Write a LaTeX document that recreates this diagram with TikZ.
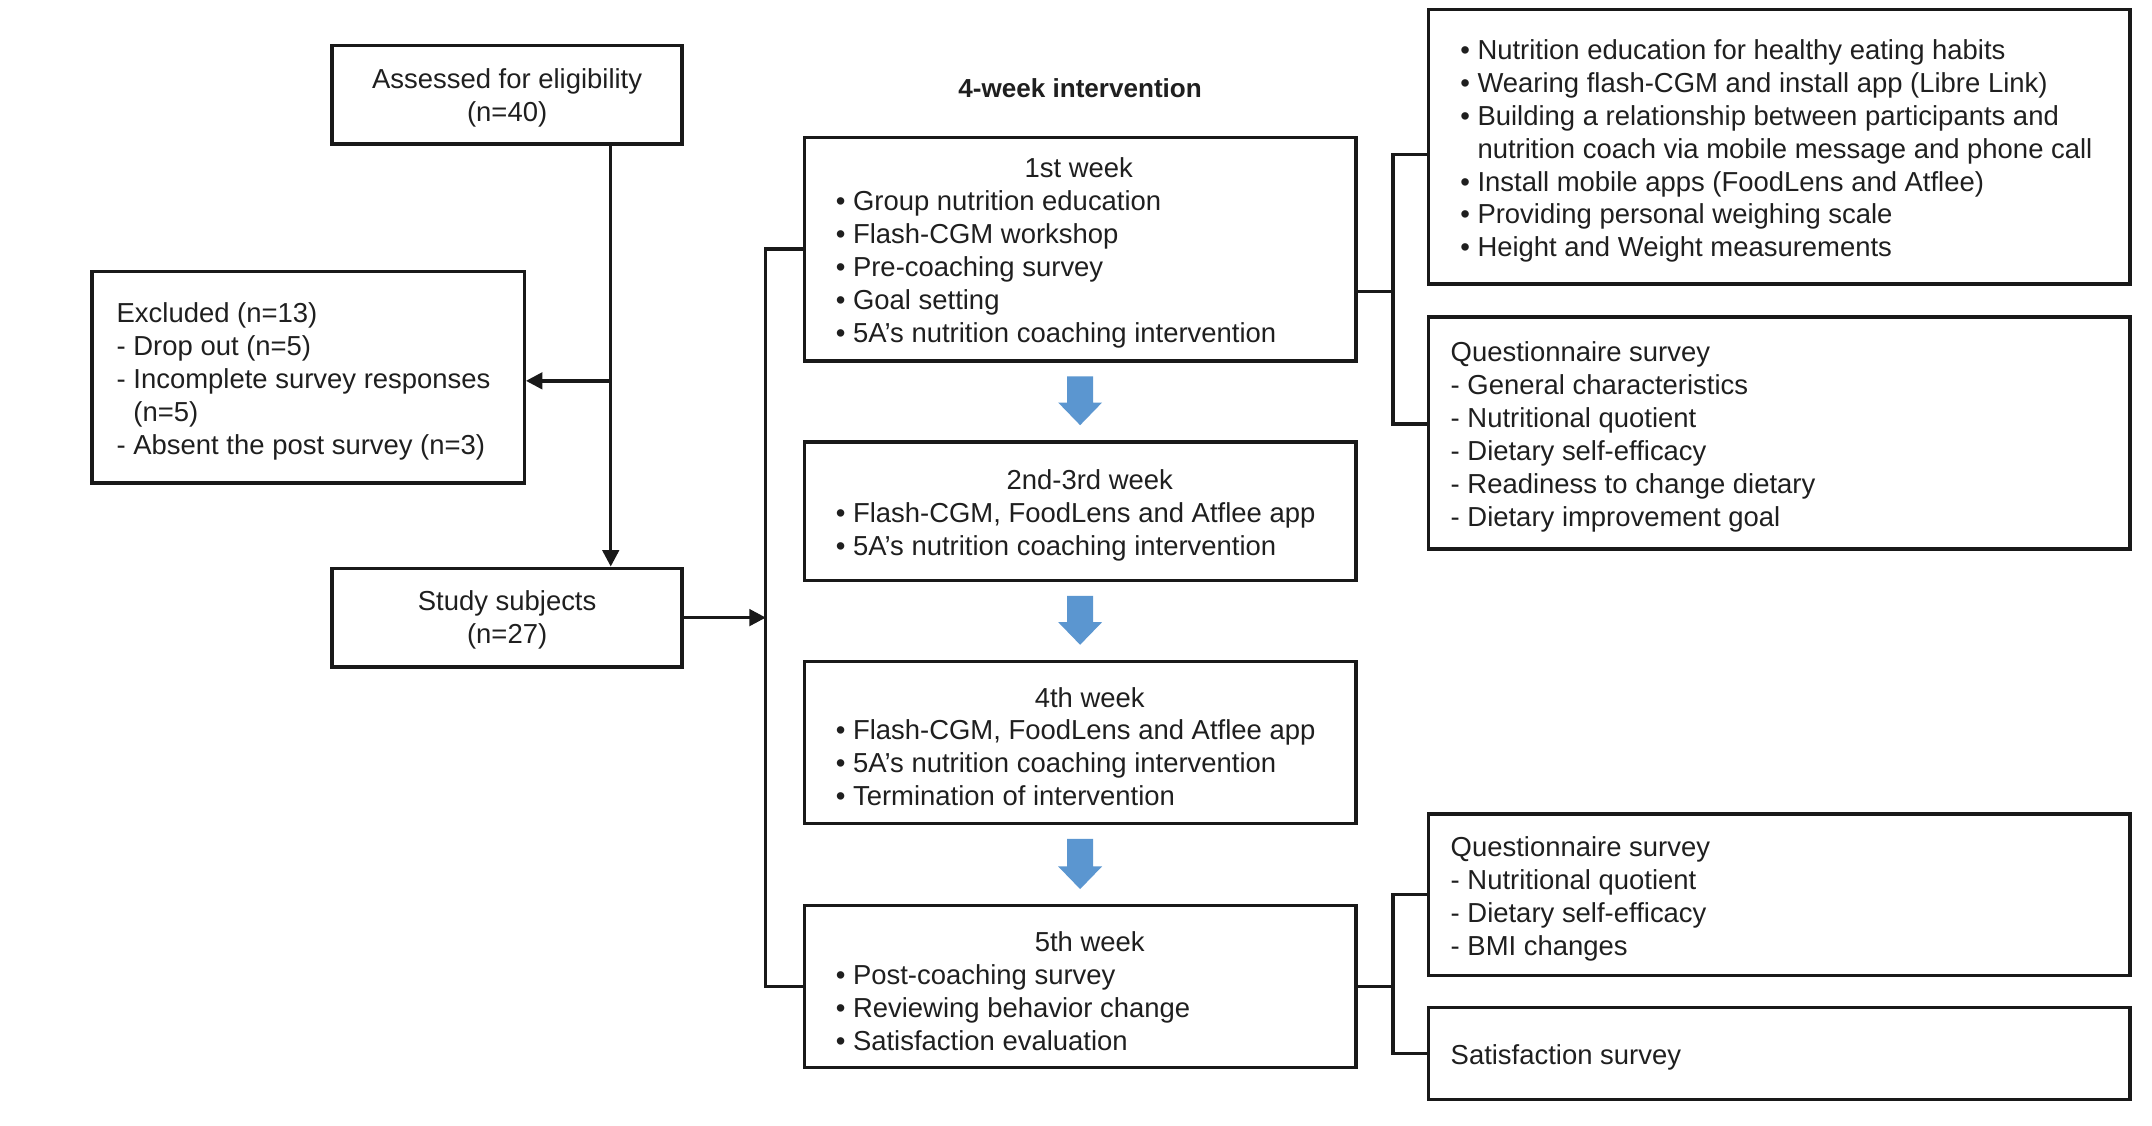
\documentclass[tikz,border=0pt]{standalone}
\usepackage{fontspec}
\setmainfont{Liberation Sans}
\usetikzlibrary{arrows.meta,calc}
\definecolor{arrowblue}{RGB}{91,150,208}
\newcommand\bluearrow[2]{%
  \fill[arrowblue] ($(#1.south)+(-9.5,10)$) -- ($(#1.south)+(9.5,10)$)
    -- ($(#2.north)+(9.5,-27.5)$) -- ($(#2.north)+(16,-27.5)$)
    -- ($(#2.north)+(0,-11)$) -- ($(#2.north)+(-16,-27.5)$)
    -- ($(#2.north)+(-9.5,-27.5)$) -- cycle;}
\newcommand\bu{\textbullet\ }
\begin{document}
\begin{tikzpicture}[x=1pt,y=-1pt,
  font=\fontsize{20}{24}\selectfont,
  box/.style={draw=black!90,line width=2.4pt,minimum width=#1,inner sep=0pt},
  txt/.style={inner sep=0pt,align=left,anchor=west,text=black!88,yshift=-3pt},
  ctxt/.style={inner sep=0pt,align=center,text=black!88,yshift=-2pt},
  conn/.style={draw=black!90,line width=2.4pt},
  arr/.style={conn,-{Triangle[length=12pt,width=12pt]}}]
\useasboundingbox (0,0) rectangle (1568,820.4);

% left column
\node[box=255pt,minimum height=72pt] (assess) at (369.5,69) {};
\node[box=315pt,minimum height=154pt] (excl) at (224.5,275) {};
\node[box=255pt,minimum height=72pt] (study) at (369.5,450) {};
\node[ctxt] (assesst) at (assess.center) {Assessed for eligibility\\(n=40)};
\node[ctxt] (studyt) at (study.center) {Study subjects\\(n=27)};
\node[txt] (exclt) at ([xshift=19pt]excl.west) {Excluded (n=13)\\- Drop out (n=5)\\- Incomplete survey responses\\\phantom{- }(n=5)\\- Absent the post survey (n=3)};

% title
\node[inner sep=0pt,font=\fontsize{19}{24}\selectfont\bfseries,text=black!88] (title) at (787,64) {4-week intervention};

% weeks
\node[box=402pt,minimum height=163pt] (w1) at (787,181.5) {};
\node[box=402pt,minimum height=101pt] (w2) at (787,372.5) {};
\node[box=402pt,minimum height=118pt] (w4) at (787,541) {};
\node[box=402pt,minimum height=118pt] (w5) at (787,719) {};

\node[txt] (w1t) at ([xshift=24pt]w1.west) {\makebox[354pt]{1st week}\\\bu Group nutrition education\\\bu Flash-CGM workshop\\\bu Pre-coaching survey\\\bu Goal setting\\\bu 5A’s nutrition coaching intervention};
\node[txt] (w2t) at ([xshift=24pt]w2.west) {\makebox[370pt]{2nd-3rd week}\\\bu Flash-CGM, FoodLens and Atflee app\\\bu 5A’s nutrition coaching intervention};
\node[txt] (w4t) at ([xshift=24pt]w4.west) {\makebox[370pt]{4th week}\\\bu Flash-CGM, FoodLens and Atflee app\\\bu 5A’s nutrition coaching intervention\\\bu Termination of intervention};
\node[txt] (w5t) at ([xshift=24pt]w5.west) {\makebox[370pt]{5th week}\\\bu Post-coaching survey\\\bu Reviewing behavior change\\\bu Satisfaction evaluation};

% right column
\node[box=511pt,minimum height=200pt] (ra) at (1296.5,107) {};
\node[box=511pt,minimum height=169pt] (rb) at (1296.5,315.5) {};
\node[box=511pt,minimum height=118pt] (rc) at (1296.5,652) {};
\node[box=511pt,minimum height=67pt] (rd) at (1296.5,767.5) {};

\node[txt] (rat) at ([xshift=24pt]ra.west) {\bu Nutrition education for healthy eating habits\\\bu Wearing flash-CGM and install app (Libre Link)\\\bu Building a relationship between participants and\\\phantom{\bu}nutrition coach via mobile message and phone call\\\bu Install mobile apps (FoodLens and Atflee)\\\bu Providing personal weighing scale\\\bu Height and Weight measurements};
\node[txt] (rbt) at ([xshift=17pt]rb.west) {Questionnaire survey\\- General characteristics\\- Nutritional quotient\\- Dietary self-efficacy\\- Readiness to change dietary\\- Dietary improvement goal};
\node[txt] (rct) at ([xshift=17pt]rc.west) {Questionnaire survey\\- Nutritional quotient\\- Dietary self-efficacy\\- BMI changes};
\node[txt] (rdt) at ([xshift=17pt]rd.west) {Satisfaction survey};

% connectors
\coordinate (vx) at (445,0);
\coordinate (bx) at (558,0);
\coordinate (rx) at (1015,0);
\draw[arr] (assess.south -| vx) -- (study.north -| vx);
\draw[arr] ([yshift=-2.5pt]excl.east -| vx) -- ([yshift=-2.5pt]excl.east);
\draw[arr] (study.east) -- (study.east -| bx);
\draw[conn] (w1.west) -- (w1.west -| bx) -- (w5.west -| bx) -- (w5.west);
\draw[conn] ([yshift=-31pt]w1.east) -- ([yshift=-31pt]w1.east -| rx);
\draw[conn] ([yshift=-5.4pt]ra.west) -- ([yshift=-5.4pt]ra.west -| rx) -- ([yshift=6.6pt]rb.west -| rx) -- ([yshift=6.6pt]rb.west);
\draw[conn] (w5.east) -- (w5.east -| rx);
\draw[conn] (rc.west) -- (rc.west -| rx) -- (rd.west -| rx) -- (rd.west);

% blue arrows
\bluearrow{w1}{w2}
\bluearrow{w2}{w4}
\bluearrow{w4}{w5}
\end{tikzpicture}
\end{document}
